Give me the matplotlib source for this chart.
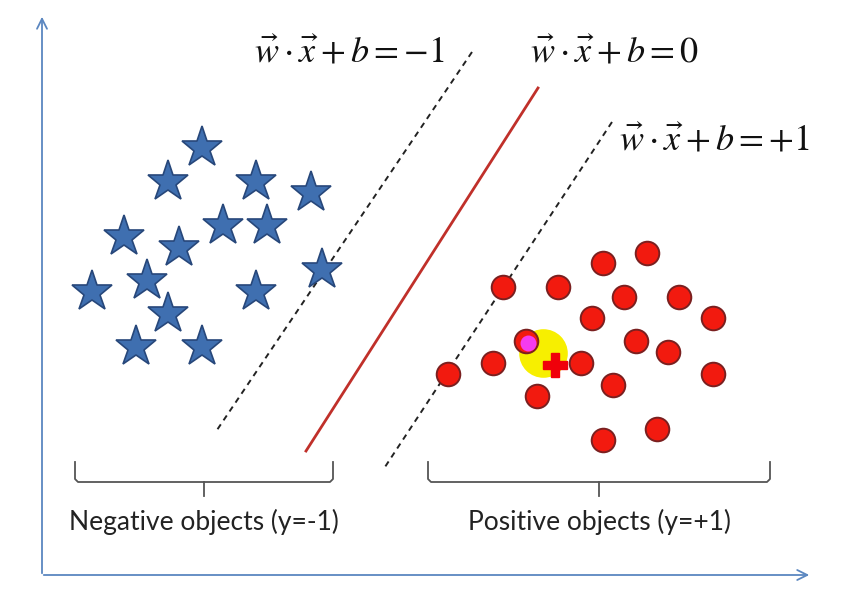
import matplotlib
matplotlib.use('Agg')
import matplotlib.pyplot as plt

plt.rcParams['mathtext.fontset'] = 'stix'

# negative class (stars), pixel-like coordinates, y grows downward
star_x = [202, 168, 256, 311, 124, 223, 267, 179, 322, 92, 147, 256, 168, 136, 202]
star_y = [148, 182, 182, 193, 237, 226, 226, 248, 270, 292, 281, 292, 314, 347, 347]

# positive class (circles)
circ_x = [503, 558, 603, 647, 624, 679, 592, 713, 636, 668, 493, 581, 448, 713, 613, 537, 657, 603, 526]
circ_y = [287, 287, 263, 253, 297, 297, 318, 318, 341, 352, 363, 363, 374, 374, 385, 396, 429, 440, 341]

# the highlighted point near the margin
hl_x, hl_y = 528, 343
query_x, query_y = 555, 365
halo_x, halo_y = 543, 353

# hyperplanes: (x_top, y_top, x_bottom, y_bottom)
plane_neg = (472, 52, 217, 430)
plane_zero = (538, 88, 306, 451)
plane_pos = (612, 122, 383, 470)

labels_eq = [r'$\vec{w}\cdot\vec{x}+b=-1$', r'$\vec{w}\cdot\vec{x}+b=0$', r'$\vec{w}\cdot\vec{x}+b=+1$']
eq_pos = [(254, 52), (530, 52), (619, 140)]

groups = ['Negative objects (y=-1)', 'Positive objects (y=+1)']
brace_span = [(75, 333), (428, 770)]

fig = plt.figure(figsize=(8.51, 5.89), dpi=100)
ax = fig.add_axes([0, 0, 1, 1])
ax.set_xlim(0, 851)
ax.set_ylim(589, 0)
ax.axis('off')

# axes arrows
axis_col = '#5b87c0'
ax.annotate('', xy=(42, 14), xytext=(42, 576),
            arrowprops=dict(arrowstyle='->', color=axis_col, lw=1.3, mutation_scale=18))
ax.annotate('', xy=(812, 575), xytext=(41, 575),
            arrowprops=dict(arrowstyle='->', color=axis_col, lw=1.3, mutation_scale=18))

# hyperplanes
ax.plot(plane_neg[::2], plane_neg[1::2], color='#222222', lw=1.4, ls=(0, (3, 2.5)))
ax.plot(plane_pos[::2], plane_pos[1::2], color='#222222', lw=1.4, ls=(0, (3, 2.5)))
ax.plot(plane_zero[::2], plane_zero[1::2], color='#c0302a', lw=2)

# points
ax.plot(star_x, star_y, ls='none', marker='*', ms=31, mfc='#3f6fb0', mec='#27477a', mew=1.2, zorder=3)
ax.plot([halo_x], [halo_y], ls='none', marker='o', ms=35, mfc='#f7ef00', mec='none', zorder=2)
ax.plot(circ_x, circ_y, ls='none', marker='o', ms=17, mfc='#f21a0f', mec='#7a2020', mew=1.4, zorder=3)
ax.plot([hl_x], [hl_y], ls='none', marker='o', ms=11.5, mfc='#f53bf0', mec='none', zorder=4)
ax.plot([query_x], [query_y], ls='none', marker='P', ms=17, mfc='#f0000a', mec='#f0000a', zorder=4)

# equations
for s, (x, y) in zip(labels_eq, eq_pos):
    ax.text(x, y, s, fontsize=26, ha='left', va='center', color='#111111')

# braces and group labels
for (x0, x1), name in zip(brace_span, groups):
    xm = (x0 + x1) / 2
    ax.plot([x0, x0, x0 + 3, x1 - 3, x1, x1], [462, 479, 482, 482, 479, 462], color='#555555', lw=1.3)
    ax.plot([xm, xm], [482, 496], color='#555555', lw=1.3)
    ax.text(xm, 522, name, fontsize=19, ha='center', va='center', family='Lato', color='#222222')

fig.savefig('out.png', dpi=100)
